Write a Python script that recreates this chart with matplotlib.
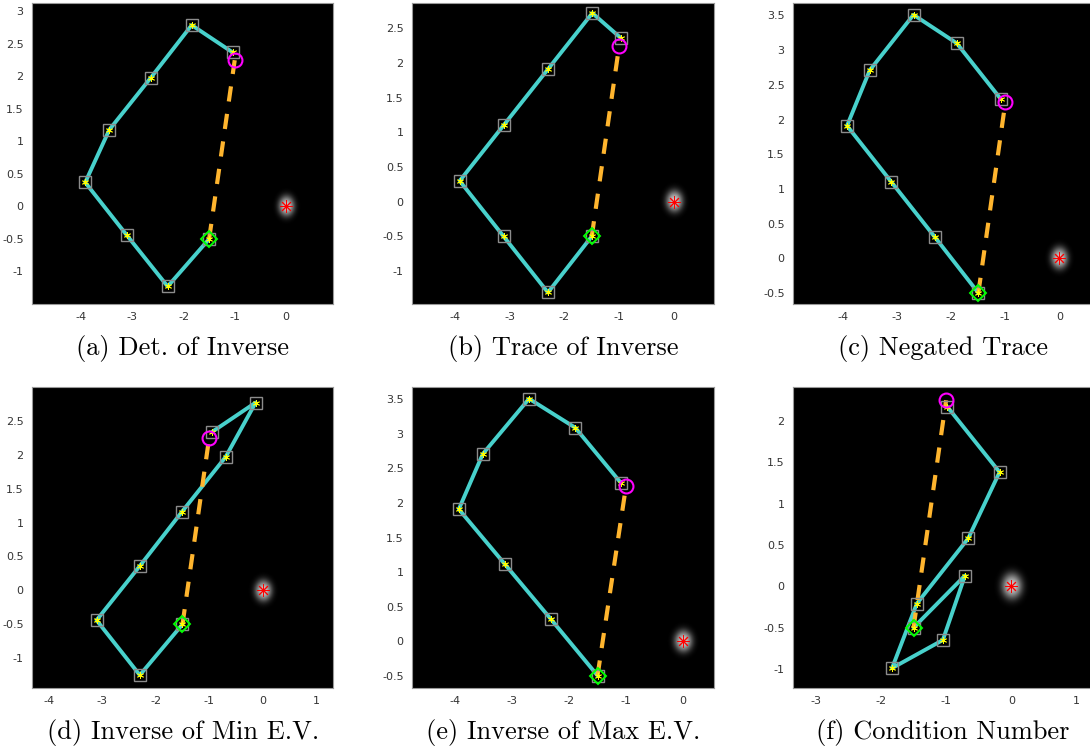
import numpy as np
import matplotlib
matplotlib.use('Agg')
import matplotlib.pyplot as plt

plt.rcParams['axes.unicode_minus'] = False
plt.rcParams['lines.scale_dashes'] = False

# start, goal and obstacle shared by all panels
start = (-1.5, -0.5)
goal = (-1.0, 2.25)
obstacle = (0.0, 0.0)

captions = ['(a) Det. of Inverse', '(b) Trace of Inverse', '(c) Negated Trace',
            '(d) Inverse of Min E.V.', '(e) Inverse of Max E.V.', '(f) Condition Number']

# visited points (start first)
path_a_x = [-1.5, -2.31, -3.11, -3.92, -3.45, -2.64, -1.84, -1.04]
path_a_y = [-0.5, -1.23, -0.44, 0.37, 1.18, 1.98, 2.79, 2.37]
path_b_x = [-1.5, -2.30, -3.11, -3.91, -3.11, -2.30, -1.49, -0.97]
path_b_y = [-0.5, -1.31, -0.50, 0.30, 1.10, 1.91, 2.72, 2.36]
path_c_x = [-1.5, -2.30, -3.11, -3.93, -3.51, -2.70, -1.90, -1.09]
path_c_y = [-0.5, 0.30, 1.10, 1.91, 2.71, 3.51, 3.10, 2.30]
path_d_x = [-1.5, -2.30, -3.11, -2.30, -1.51, -0.69, -0.13, -0.94]
path_d_y = [-0.5, -1.25, -0.44, 0.36, 1.16, 1.97, 2.77, 2.34]
path_e_x = [-1.5, -2.32, -3.12, -3.93, -3.51, -2.70, -1.89, -1.09]
path_e_y = [-0.5, 0.32, 1.11, 1.91, 2.71, 3.51, 3.09, 2.29]
path_f_x = [-1.5, -0.71, -1.05, -1.83, -1.45, -0.66, -0.18, -0.98]
path_f_y = [-0.5, 0.13, -0.65, -0.99, -0.21, 0.58, 1.38, 2.17]

paths = [(path_a_x, path_a_y), (path_b_x, path_b_y), (path_c_x, path_c_y),
         (path_d_x, path_d_y), (path_e_x, path_e_y), (path_f_x, path_f_y)]

xlims = [(-4.96, 0.92), (-4.78, 0.73), (-4.93, 0.64), (-4.32, 1.32), (-4.75, 0.54), (-3.35, 1.27)]
ylims = [(-1.50, 3.13), (-1.476, 2.865), (-0.66, 3.68), (-1.44, 3.0), (-0.68, 3.68), (-1.23, 2.41)]
xticks = [np.arange(-4, 1), np.arange(-4, 1), np.arange(-4, 1), np.arange(-4, 2), np.arange(-4, 1), np.arange(-3, 2)]
yticks = [np.arange(-1, 3.01, 0.5), np.arange(-1, 2.51, 0.5), np.arange(-0.5, 3.51, 0.5),
          np.arange(-1, 2.51, 0.5), np.arange(-0.5, 3.51, 0.5), np.arange(-1, 2.01, 0.5)]

# axes boxes in pixels: left, top, right, bottom
W, H = 1090, 751
boxes = [(32, 3, 333, 304), (412, 3, 714, 304), (793, 3, 1094, 304),
         (32, 387, 333, 688), (412, 387, 714, 688), (793, 387, 1094, 688)]
cap_pos = [(183, 348), (563, 348), (943, 348), (183, 732), (563, 732), (943, 732)]

fig = plt.figure(figsize=(W / 100, H / 100), dpi=100)

# soft glow around the obstacle
R = 0.3
g = np.linspace(-R, R, 121)
gx, gy = np.meshgrid(g, g)
rr = np.sqrt(gx ** 2 + gy ** 2)
glow = np.zeros((121, 121, 4))
glow[..., :3] = 1.0
glow[..., 3] = 0.78 * np.exp(-(rr / 0.15) ** 2.5)

for i in range(6):
    l, t, r, b = boxes[i]
    ax = fig.add_axes([l / W, 1 - b / H, (r - l) / W, (b - t) / H])
    ax.set_facecolor('black')
    px, py = paths[i]

    ax.imshow(glow, extent=(obstacle[0] - R, obstacle[0] + R, obstacle[1] - R, obstacle[1] + R),
              aspect='auto', zorder=1, interpolation='bilinear')
    ax.plot(px, py, color='#48D1CC', lw=2.8, zorder=2, solid_capstyle='round')
    ax.plot([start[0], goal[0]], [start[1], goal[1]], color='#FFB52E', lw=3,
            dashes=(11, 9), zorder=3)
    ax.plot(px, py, ls='none', marker='s', ms=8.5, mfc='none', mec='#8c8c8c', mew=1.0, zorder=4)
    ax.plot(px, py, ls='none', marker=(6, 2, 0), ms=5, mec='#ffff00', mew=0.6, zorder=5)
    ax.plot(start[0], start[1], ls='none', marker='D', ms=8, mfc='none', mec='#00ff00', mew=1.4, zorder=6)
    ax.plot(goal[0], goal[1], ls='none', marker='o', ms=10, mfc='none', mec='#ff00ff', mew=1.5, zorder=6)
    ax.plot(obstacle[0], obstacle[1], ls='none', marker=(8, 2, 0), ms=9, mec='red', mew=0.7, zorder=6)

    ax.set_xlim(xlims[i])
    ax.set_ylim(ylims[i])
    ax.set_xticks(xticks[i])
    ax.set_yticks(yticks[i])
    ax.set_xticklabels(['%g' % v for v in xticks[i]])
    ax.set_yticklabels(['%g' % v for v in yticks[i]])
    ax.tick_params(length=0, labelsize=8, labelcolor='#333333', pad=6)
    for s in ax.spines.values():
        s.set_color('#999999')
        s.set_linewidth(0.8)

    cx, cy = cap_pos[i]
    fig.text(cx / W, 1 - cy / H, captions[i], ha='center', va='center',
             fontsize=19, family='cmr10')

fig.savefig('out.png', dpi=100)
plt.close(fig)
